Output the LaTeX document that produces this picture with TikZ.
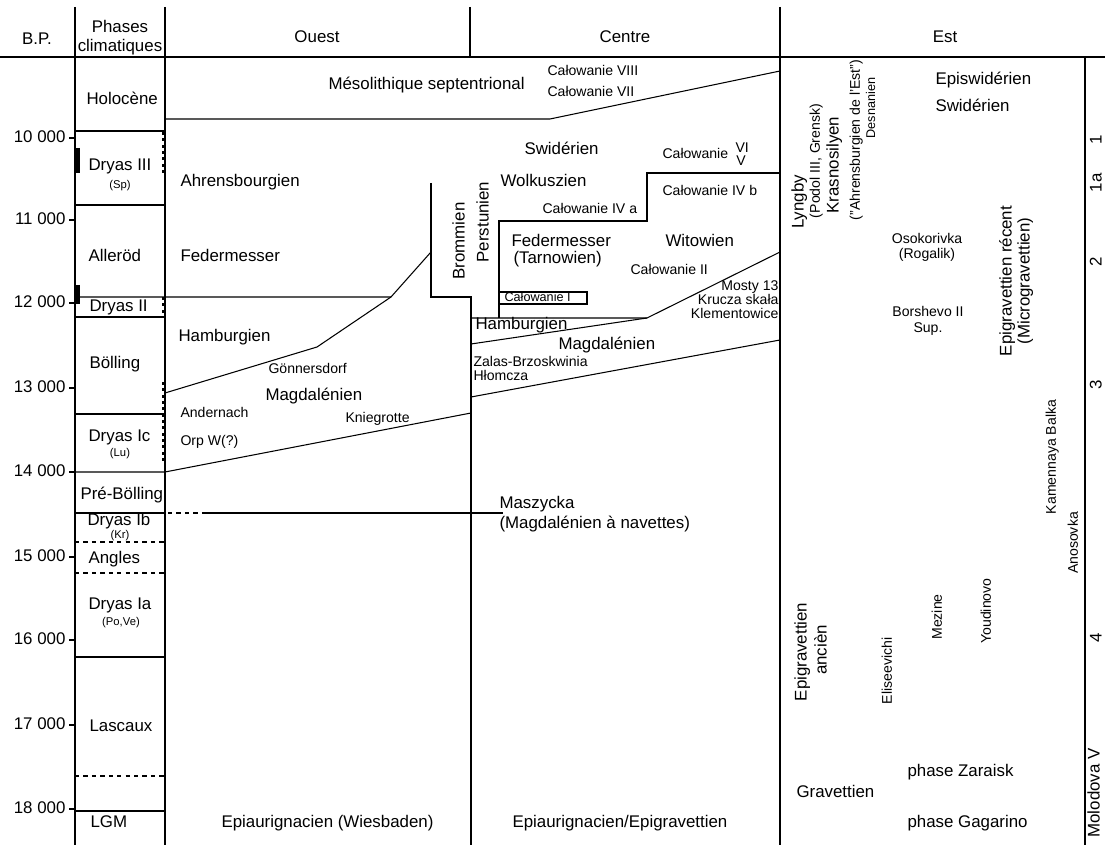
\documentclass[tikz,border=0pt]{standalone}
\usepackage{fontspec}
\setmainfont{Liberation Sans}
\usepackage{tikz}

\begin{document}
\begin{tikzpicture}[x=0.025cm, y=-0.025cm, line width=0.75pt,
    grand/.style={font=\fontsize{12}{14}\selectfont, inner sep=0pt, text height=9pt, text depth=2.5pt},
    moyen/.style={font=\fontsize{10}{12}\selectfont, inner sep=0pt, text height=7.5pt, text depth=2pt},
    petit/.style={font=\fontsize{8}{10}\selectfont, inner sep=0pt, text height=6pt, text depth=1.6pt},
    pointille/.style={line width=2.2pt, dash pattern=on 2.1pt off 2.4pt},
    barre/.style={line width=3.5pt}]
    \useasboundingbox (0,0) rectangle (1105,845);

    % 绘制表头
    \draw (0,57) -- (1105,57);
    \draw (75,7) -- (75,845);
    \draw (165,7) -- (165,845);
    \draw (470,7) -- (470,57);
    \draw (780,7) -- (780,845);
    \draw (1085,57) -- (1085,845);
    \node[grand] (bp) at (37,40) {B.P.};
    \node[grand] (phases) at (120,28) {Phases};
    \node[grand] (climat) at (120,47) {climatiques};
    \node[grand] (ouest) at (317,38) {Ouest};
    \node[grand] (centre) at (625,38) {Centre};
    \node[grand] (est) at (945,38) {Est};

    % 年代刻度
    \foreach \a/\y in {10/138, 11/220, 12/303, 13/388, 14/472, 15/557, 16/640, 17/725, 18/809} {
        \draw (69,\y) -- (75,\y);
        \node[grand, anchor=east] (bp\a) at (66,\y) {\a\ 000};
    }

    % 气候阶段
    \foreach \y in {131, 205, 317, 414, 657, 811}
        \draw (75,\y) -- (165,\y);
    \foreach \y in {542, 573, 776}
        \draw[dashed] (75,\y) -- (165,\y);
    \draw (75,513) -- (165,513); % Dryas Ib
    \draw[dashed] (168,513) -- (205,513);
    \draw (205,513) -- (503,513);
    \draw[barre] (77.5,148) -- (77.5,173);
    \draw[barre] (77.5,285) -- (77.5,304);
    \draw[pointille] (163.5,132) -- (163.5,174);
    \draw[pointille] (163.5,297) -- (163.5,318);
    \draw[pointille] (163.5,382) -- (163.5,464);

    \node[grand, anchor=west] (holo) at (86,100) {Holocène};
    \node[grand, anchor=west] (dr3) at (88,166) {Dryas III};
    \node[petit] (sp) at (120,185) {(Sp)};
    \node[grand, anchor=west] (allerod) at (88,257) {Alleröd};
    \node[grand, anchor=west] (dr2) at (89,307) {Dryas II};
    \node[grand, anchor=west] (bolling) at (89,364) {Bölling};
    \node[grand, anchor=west] (dr1c) at (88,437) {Dryas Ic};
    \node[petit] (lu) at (120,453) {(Lu)};
    \node[grand, anchor=west] (prebol) at (80,495) {Pré-Bölling};
    \node[grand, anchor=west] (dr1b) at (87,521) {Dryas Ib};
    \node[petit] (kr) at (120,535) {(Kr)};
    \node[grand, anchor=west] (angles) at (88,559) {Angles};
    \node[grand, anchor=west] (dr1a) at (88,605) {Dryas Ia};
    \node[petit] (pove) at (121,622) {(Po,Ve)};
    \node[grand, anchor=west] (lascaux) at (89,727) {Lascaux};
    \node[grand, anchor=west] (lgm) at (90,823) {LGM};

    % 西部
    \draw (165,119) -- (550,119) -- (780,71);
    \draw (75,297) -- (391,297) -- (431,252);
    \draw (165,393) -- (317,347) -- (391,297);
    \draw (75,472) -- (165,472) -- (471,413);
    \node[grand, anchor=west] (meso) at (328,85) {Mésolithique septentrional};
    \node[grand, anchor=west] (ahrens) at (180,182) {Ahrensbourgien};
    \node[grand, anchor=west] (fedo) at (180,257) {Federmesser};
    \node[grand, anchor=west] (hambo) at (178,337) {Hamburgien};
    \node[moyen, anchor=west] (gonn) at (268,370) {Gönnersdorf};
    \node[grand, anchor=west] (magdo) at (265,396) {Magdalénien};
    \node[moyen, anchor=west] (ander) at (180,414) {Andernach};
    \node[moyen, anchor=west] (orp) at (180,442) {Orp W(?)};
    \node[moyen, anchor=west] (knie) at (345,419) {Kniegrotte};
    \node[grand, anchor=west] (wiesb) at (221,823) {Epiaurignacien (Wiesbaden)};

    % 中部
    \draw (431,183) -- (431,297) -- (471,297) -- (471,845);
    \draw (499,318) -- (499,221) -- (647,221) -- (647,173) -- (780,173);
    \draw (471,318) -- (647,318) -- (780,252);
    \draw (471,344) -- (647,318);
    \draw (471,397) -- (780,340);
    \draw (499,292) rectangle (587,304);
    \node[moyen, anchor=west] (cal8) at (547,72) {Całowanie VIII};
    \node[moyen, anchor=west] (cal7) at (547,93) {Całowanie VII};
    \node[grand, anchor=west] (swidc) at (524,150) {Swidérien};
    \node[moyen, anchor=west] (cal6) at (662,155) {Całowanie};
    \node[moyen, anchor=west] (vi) at (735,149) {VI};
    \node[moyen] (v) at (741,162) {V};
    \node[grand, anchor=west] (wolk) at (500,182) {Wolkuszien};
    \node[moyen, anchor=west] (cal4a) at (542,210) {Całowanie IV a};
    \node[moyen, anchor=west] (cal4b) at (662,192) {Całowanie IV b};
    \node[grand, rotate=90] (bromm) at (460,241) {Brommien};
    \node[grand, rotate=90] (perst) at (484,222) {Perstunien};
    \node[grand, anchor=west] (fedc) at (511,242) {Federmesser};
    \node[grand, anchor=west] (tarn) at (513,259) {(Tarnowien)};
    \node[grand, anchor=west] (witow) at (665,242) {Witowien};
    \node[moyen, anchor=west] (cal2) at (630,271) {Całowanie II};
    \node[petit, font=\fontsize{9}{10}\selectfont, anchor=west] (cal1) at (504,298) {Całowanie I};
    \node[moyen, anchor=east] (mosty) at (779,287) {Mosty 13};
    \node[moyen, anchor=east] (krucza) at (779,301) {Krucza skała};
    \node[moyen, anchor=east] (klem) at (779,315) {Klementowice};
    \node[grand, anchor=west] (hambc) at (475,325) {Hamburgien};
    \node[grand, anchor=west] (magdc) at (558,345) {Magdalénien};
    \node[moyen, anchor=west] (zalas) at (473,363) {Zalas-Brzoskwinia};
    \node[moyen, anchor=west] (hlom) at (473,377) {Hłomcza};
    \node[grand, anchor=west] (maszy) at (499,504) {Maszycka};
    \node[grand, anchor=west] (navet) at (499,524) {(Magdalénien à navettes)};
    \node[grand] (epic) at (620,823) {Epiaurignacien/Epigravettien};

    % 东部
    \node[grand, rotate=90] (lyngby) at (799,202) {Lyngby};
    \node[moyen, rotate=90] (podol) at (816,161) {(Podol III, Grensk)};
    \node[grand, rotate=90] (krasno) at (834,165) {Krasnosilyen};
    \node[moyen, rotate=90] (ahrest) at (856,140) {("Ahrensburgien de l'Est")};
    \node[petit, font=\fontsize{9}{10}\selectfont, rotate=90] (desna) at (872,108) {Desnanien};
    \node[grand, anchor=west] (episw) at (935,80) {Episwidérien};
    \node[grand, anchor=west] (swide) at (935,107) {Swidérien};
    \node[moyen] (osok) at (927,240) {Osokorivka};
    \node[moyen] (rogal) at (927,255) {(Rogalik)};
    \node[moyen] (borsh) at (928,313) {Borshevo II};
    \node[moyen] (sup) at (928,329) {Sup.};
    \node[grand, rotate=90] (epirec) at (1007,281) {Epigravettien récent};
    \node[grand, rotate=90] (micro) at (1025,281) {(Microgravettien)};
    \node[moyen, rotate=90] (kamen) at (1052,457) {Kamennaya Balka};
    \node[moyen, rotate=90] (anoso) at (1074,543) {Anosovka};
    \node[grand, rotate=90] (epianc) at (802,652) {Epigravettien};
    \node[grand, rotate=90] (ancien) at (822,650) {ancièn};
    \node[moyen, rotate=90] (elise) at (888,671) {Eliseevichi};
    \node[moyen, rotate=90] (mezine) at (938,617) {Mezine};
    \node[moyen, rotate=90] (youdi) at (987,611) {Youdinovo};
    \node[grand, anchor=west] (zarai) at (907,772) {phase Zaraisk};
    \node[grand, anchor=west] (gravet) at (796,793) {Gravettien};
    \node[grand, anchor=west] (gagar) at (907,823) {phase Gagarino};

    % Molodova V 层位
    \node[grand, rotate=90] (molod) at (1095,793) {Molodova V};
    \foreach \n/\y in {1/140, 1a/183, 2/262, 3/385, 4/638}
        \node[grand, rotate=90] (mol\n) at (1097,\y) {\n};
\end{tikzpicture}
\end{document}
